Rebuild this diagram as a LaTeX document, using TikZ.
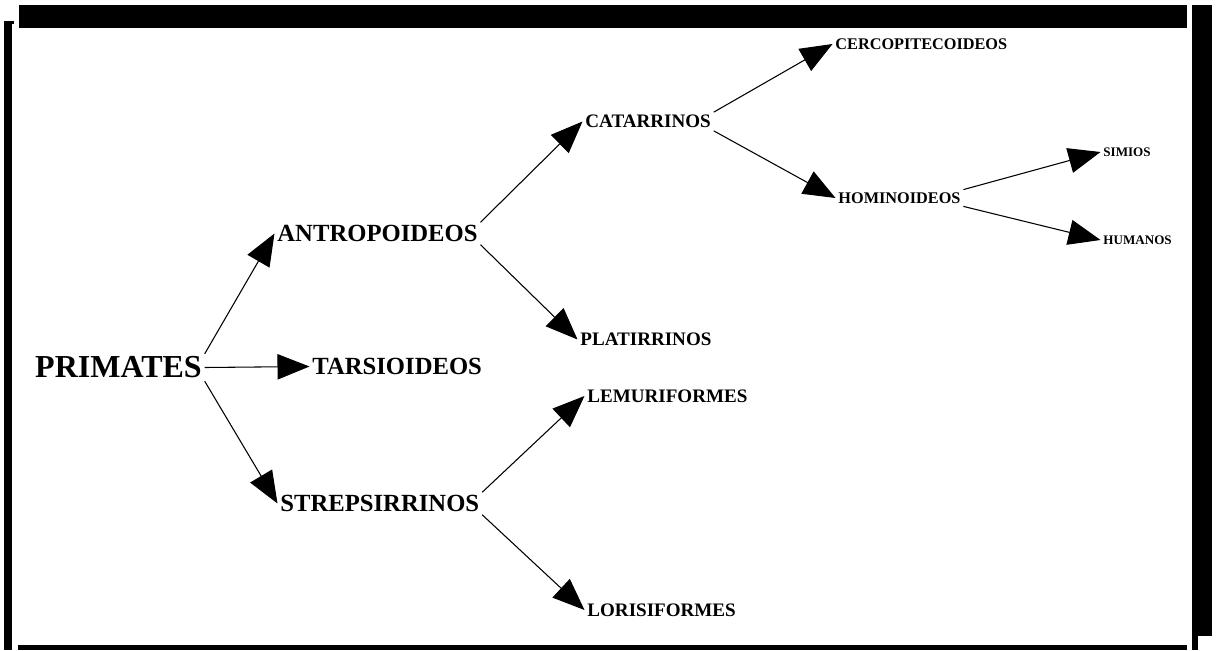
\documentclass[tikz,border=0pt]{standalone}
\usepackage{fontspec}
\setmainfont{Liberation Serif}
\usetikzlibrary{arrows.meta}

\begin{document}
\begin{tikzpicture}[x=0.75pt,y=0.75pt,yscale=-1,
  taxon/.style={inner sep=2pt, anchor=west},
  taxonXL/.style={taxon, font=\fontsize{24}{28}\selectfont\bfseries},
  taxonL/.style={taxon, font=\fontsize{18.5}{22}\selectfont\bfseries},
  taxonM/.style={taxon, font=\fontsize{14.3}{17}\selectfont\bfseries},
  taxonS/.style={taxon, font=\fontsize{12.2}{14}\selectfont\bfseries},
  taxonXS/.style={taxon, font=\fontsize{9.8}{12}\selectfont\bfseries},
  branch/.style={line width=0.8pt, -{Triangle[length=24pt,width=19pt]}}]
\useasboundingbox (0,0) rectangle (1216,650);
\fill [white] (0,0) rectangle (1216,650);

% Frame
\fill (19,5) rectangle (1187,28);
\fill (1192,5) rectangle (1212,636);
\fill (1192,636) rectangle (1198,650);
\fill (4,21) rectangle (12,650);
\fill (4,21) rectangle (14,24);
\fill (18,645) rectangle (1187,650);

% Text Node
\node [taxonXL] (primates) at (32.3,367.5) {PRIMATES};
% Text Node
\node [taxonL] (antropo) at (274.5,233.5) {ANTROPOIDEOS};
% Text Node
\node [taxonL] (tarsio) at (309.5,366.5) {TARSIOIDEOS};
% Text Node
\node [taxonL] (strepsi) at (277.5,503.5) {STREPSIRRINOS};
% Text Node
\node [taxonM] (catarr) at (582.5,121.5) {CATARRINOS};
% Text Node
\node [taxonM] (platirr) at (577.5,339.5) {PLATIRRINOS};
% Text Node
\node [taxonM] (lemuri) at (584.5,396) {LEMURIFORMES};
% Text Node
\node [taxonM] (lorisi) at (584.5,610) {LORISIFORMES};
% Text Node
\node [taxonS] (cercopi) at (832.5,44) {CERCOPITECOIDEOS};
% Text Node
\node [taxonS] (homino) at (835.5,198) {HOMINOIDEOS};
% Text Node
\node [taxonXS] (simios) at (1100.5,152) {SIMIOS};
% Text Node
\node [taxonXS] (humanos) at (1100.5,240) {HUMANOS};

% Branches
\draw [branch] (primates.north east) -- (antropo.west);
\draw [branch] (primates.east) -- (tarsio.west);
\draw [branch] (primates.south east) -- (strepsi.west);
\draw [branch] (antropo.north east) -- (catarr.west);
\draw [branch] (antropo.south east) -- (platirr.west);
\draw [branch] (strepsi.north east) -- (lemuri.west);
\draw [branch] (strepsi.south east) -- (lorisi.west);
\draw [branch] (catarr.north east) -- (cercopi.west);
\draw [branch] (catarr.south east) -- (homino.west);
\draw [branch] (homino.north east) -- (simios.west);
\draw [branch] (homino.south east) -- (humanos.west);

\end{tikzpicture}
\end{document}
